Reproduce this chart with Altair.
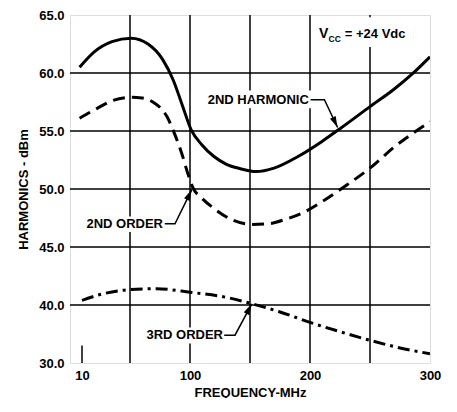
import math
import altair as alt
import pandas as pd

# ---- data ----
h2_x = [8, 20, 35, 51, 65, 77, 86, 93, 101, 110, 120, 130, 142, 155, 170, 190, 210, 225, 250, 270, 285, 300]
h2_y = [60.5, 61.8, 62.7, 63.0, 62.5, 61.2, 59.4, 57.4, 55.1, 53.8, 52.8, 52.15, 51.75, 51.5, 51.8, 52.8, 54.1, 55.2, 57.1, 58.6, 59.9, 61.4]

o2_x = [8, 20, 35, 51, 60, 69, 81, 87, 93, 98, 102, 110, 119, 136, 152, 165, 180, 195, 210, 230, 250, 270, 300]
o2_y = [56.1, 56.8, 57.6, 57.9, 57.85, 57.5, 56.2, 54.8, 53.1, 51.4, 50.2, 49.2, 48.4, 47.3, 46.95, 47.0, 47.4, 48.0, 48.9, 50.3, 51.8, 53.6, 55.8]

o3_x = [10, 25, 47, 72, 100, 133, 152, 175, 200, 225, 252, 275, 300]
o3_y = [40.4, 40.9, 41.3, 41.4, 41.1, 40.6, 40.1, 39.4, 38.5, 37.7, 36.9, 36.3, 35.8]

x_tick_values = [10, 100, 200, 300]
y_tick_values = [35, 40, 45, 50, 55, 60, 65]
y_tick_labels = ["30.0", "40.0", "45.0", "50.0", "55.0", "60.0", "65.0"]
grid_x = [50, 100, 150, 200, 250]
grid_y = [40, 45, 50, 55, 60]

label_text = ["2ND HARMONIC", "2ND ORDER", "3RD ORDER"]
label_x = [199, 77.5, 127.5]
label_y = [57.7, 47.0, 37.4]
bg_x = [100.8, 2.5, 52.5, 204]
bg_x2 = [201.7, 80, 130, 296]
bg_y = [58.5, 47.64, 38.06, 64.8]
bg_y2 = [56.97, 46.3, 36.68, 62.24]
leader_x = [[200.5, 212, 223], [79, 87.5, 101.5], [128.5, 137.5, 151.5]]
leader_y = [[57.7, 57.7, 55.3], [47.0, 47.0, 49.95], [37.4, 37.4, 40.1]]

W, H = 360, 348
XD = (0, 300)
YD = (35, 65)
FONT = "Liberation Sans"

# ---- tables ----
def line_df(xs, ys):
    return pd.DataFrame({"f": xs, "v": ys})

grid_x_df = pd.DataFrame({"f": grid_x})
grid_y_df = pd.DataFrame({"v": grid_y})
labels_df = pd.DataFrame({"t": label_text, "f": label_x, "v": label_y})
bg_df = pd.DataFrame({"f": bg_x, "f2": bg_x2, "v": bg_y, "v2": bg_y2})
lead_rows = []
arrow_rows = []
for i, (lx, ly) in enumerate(zip(leader_x, leader_y)):
    for k, (a, b) in enumerate(zip(lx, ly)):
        lead_rows.append({"g": i, "o": k, "f": a, "v": b})
    dx = (lx[-1] - lx[-2]) * W / (XD[1] - XD[0])
    dy = -(ly[-1] - ly[-2]) * H / (YD[1] - YD[0])
    ang = math.degrees(math.atan2(dx, -dy)) % 360
    arrow_rows.append({"f": lx[-1], "v": ly[-1], "a": ang})
lead_df = pd.DataFrame(lead_rows)
arrow_df = pd.DataFrame(arrow_rows)

ylabel_map = "{" + ",".join(f"'{v}':'{t}'" for v, t in zip(y_tick_values, y_tick_labels)) + "}"

xs = alt.Scale(domain=list(XD), nice=False, zero=False)
ys = alt.Scale(domain=list(YD), nice=False, zero=False)

X = alt.X("f:Q", scale=xs, axis=alt.Axis(
    values=x_tick_values, grid=False, ticks=False, domain=False,
    title="FREQUENCY-MHz", labelPadding=6, titlePadding=4,
    labelFont=FONT, labelFontSize=13, labelFontWeight="bold", labelColor="black",
    titleFont=FONT, titleFontSize=13, titleFontWeight="bold", titleColor="black",
    labelFlush=False))
Y = alt.Y("v:Q", scale=ys, axis=alt.Axis(
    values=y_tick_values, grid=False, ticks=False, domain=False,
    labelExpr=f"{ylabel_map}[''+datum.value]",
    title="HARMONICS - dBm", labelPadding=6, titlePadding=8,
    labelFont=FONT, labelFontSize=13, labelFontWeight="bold", labelColor="black",
    titleFont=FONT, titleFontSize=13, titleFontWeight="bold", titleColor="black",
    labelFlush=False))

base_axes = alt.Chart(line_df(o3_x, o3_y)).mark_point(opacity=0).encode(x=X, y=Y)

gx = alt.Chart(grid_x_df).mark_rule(color="black", strokeWidth=1.5).encode(
    x=alt.X("f:Q", scale=xs))
gy = alt.Chart(grid_y_df).mark_rule(color="black", strokeWidth=1.5).encode(
    y=alt.Y("v:Q", scale=ys))
tick10 = alt.Chart(pd.DataFrame({"f": [x_tick_values[0]], "v": [YD[0]], "v2": [36.5]})).mark_rule(
    color="black", strokeWidth=1.5).encode(x=alt.X("f:Q", scale=xs), y=alt.Y("v:Q", scale=ys), y2="v2")

def curve(xs_, ys_, dash=None):
    kw = dict(color="black", strokeWidth=3, interpolate="monotone", clip=True)
    if dash:
        kw["strokeDash"] = dash
    return alt.Chart(line_df(xs_, ys_)).mark_line(**kw).encode(
        x=alt.X("f:Q", scale=xs), y=alt.Y("v:Q", scale=ys))

c_h2 = curve(h2_x, h2_y)
c_o2 = curve(o2_x, o2_y, [12, 7])
c_o3 = curve(o3_x, o3_y, [12, 5, 3, 5])

bg = alt.Chart(bg_df).mark_rect(color="white").encode(
    x=alt.X("f:Q", scale=xs), x2="f2", y=alt.Y("v:Q", scale=ys), y2="v2")

labels = alt.Chart(labels_df).mark_text(
    align="right", baseline="middle", font=FONT, fontSize=13, fontWeight="bold", color="black").encode(
    x=alt.X("f:Q", scale=xs), y=alt.Y("v:Q", scale=ys), text="t:N")

leaders = alt.Chart(lead_df).mark_line(color="black", strokeWidth=1.5).encode(
    x=alt.X("f:Q", scale=xs), y=alt.Y("v:Q", scale=ys), detail="g:N", order="o:Q")

arrows = alt.Chart(arrow_df).mark_point(
    shape="M0,0L-0.28,1L0.28,1Z", filled=True, color="black", opacity=1, size=500).encode(
    x=alt.X("f:Q", scale=xs), y=alt.Y("v:Q", scale=ys), angle=alt.Angle("a:Q", scale=None))

vcc_df = pd.DataFrame({"t": ["V", "CC", "= +24 Vdc"], "f": [207.5, 215.5, 229.0], "v": [63.4, 62.9, 63.4],
                       "s": [14, 8.5, 13]})
vcc = alt.Chart(vcc_df).mark_text(
    align="left", baseline="middle", font=FONT, fontWeight="bold", color="black").encode(
    x=alt.X("f:Q", scale=xs), y=alt.Y("v:Q", scale=ys), text="t:N",
    size=alt.Size("s:Q", scale=None, legend=None))

chart = alt.layer(base_axes, gx, gy, tick10, c_h2, c_o2, c_o3, bg, leaders, arrows, labels, vcc).properties(
    width=W, height=H,
    autosize=alt.AutoSizeParams(type="none"),
    padding={"left": 62, "top": 7, "right": 15, "bottom": 35},
).configure_view(stroke="black", strokeWidth=2.5).configure(background="white")

chart.save("out.html", embed_options={"renderer": "svg", "actions": False})
